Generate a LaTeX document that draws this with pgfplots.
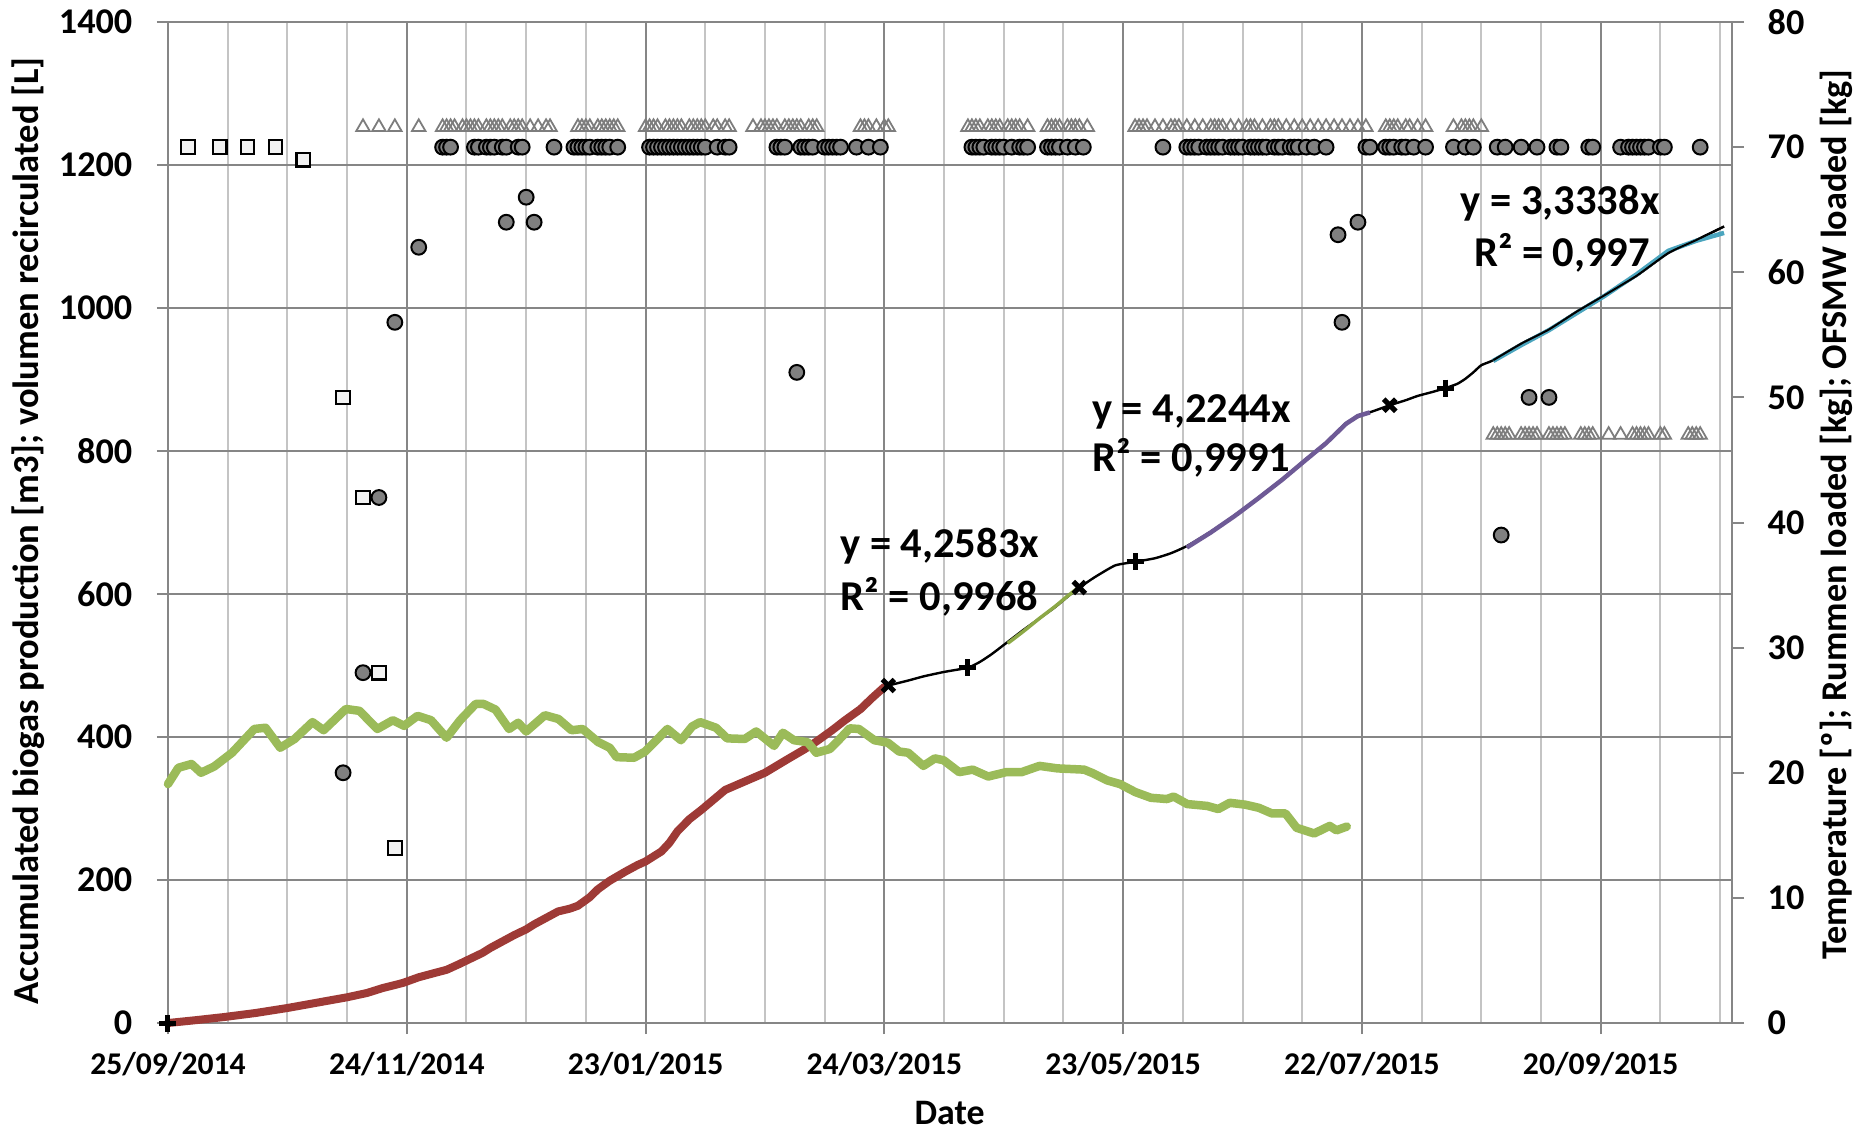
\documentclass[border=0pt]{standalone}
\usepackage{fontspec}
\setmainfont{Carlito}
\usepackage{pgfplots}
\pgfplotsset{compat=1.18}
\usetikzlibrary{calc}
\definecolor{gridmaj}{RGB}{134,134,134}
\definecolor{gridmin}{RGB}{196,196,196}
\definecolor{biored}{RGB}{158,58,54}
\definecolor{tempgreen}{RGB}{155,187,89}
\definecolor{circfill}{RGB}{128,128,128}
\definecolor{trigray}{RGB}{125,125,125}
\definecolor{sqfill}{RGB}{242,242,242}
\definecolor{trolive}{RGB}{140,168,70}
\definecolor{trpurple}{RGB}{110,90,150}
\definecolor{trteal}{RGB}{75,165,190}
\begin{document}
\begin{tikzpicture}
\begin{axis}[
  scale only axis, width=156.4mm, height=100.1mm,
  xmin=0, xmax=393, ymin=0, ymax=1400,
  clip=false,
  axis x line*=bottom, axis y line*=left,
  axis line style={gridmaj, line width=0.2mm},
  xtick={0,60,120,180,240,300,360},
  xticklabels={25/09/2014,24/11/2014,23/01/2015,24/03/2015,23/05/2015,22/07/2015,20/09/2015},
  minor xtick={15,30,45,75,90,105,135,150,165,195,210,225,255,270,285,315,330,345,375,390},
  ytick={0,200,...,1400},
  xmajorgrids, xminorgrids, ymajorgrids,
  major grid style={gridmaj, line width=0.2mm},
  minor grid style={gridmin, line width=0.2mm},
  tick align=outside, major tick length=1.1mm, minor tick length=0pt,
  every tick/.style={gridmaj, line width=0.2mm},
  /pgf/number format/1000 sep={},
  /pgf/number format/assume math mode=true,
  yticklabel style={font=\fontsize{10.3}{12}\selectfont\bfseries, anchor=east, inner sep=0pt, xshift=-2.4mm},
  xticklabel style={font=\fontsize{9}{11}\selectfont\bfseries, anchor=center, inner sep=0pt, yshift=-3.0mm},
]
\coordinate (SW) at (rel axis cs:0,0);
\coordinate (NE) at (rel axis cs:1,1);
% accumulated biogas production (red)
\addplot[biored, line width=0.8mm, line join=round, line cap=round] coordinates {
(0,0) (7,4) (14,8.3) (22,14) (30,21) (37,28) (45,36) (50,42) (54,49) (59,56)
(63,64) (67,70) (70,74.4) (73,82) (76,90) (79,98) (81,105) (84,114) (87,123)
(90,131) (92,138) (95,147) (98,156) (101,160) (103,164) (106,176) (108,187)
(111,199) (115,212) (118,221) (120,226) (124,240) (126,252) (128,268) (131,285)
(134,298) (137,312) (140,326) (145,338) (150,350) (156,370) (160,383) (163,394)
(167,410) (170,423) (174,439) (177,455) (180,470)
};
% black continuation
\addplot[black, line width=0.24mm, smooth, tension=0.3] coordinates {
(180,470) (181,472) (186,479) (190,485) (195,491) (201,497) (204,505) (207,516)
(211,533) (215,550) (219,566) (223,582) (226,596) (229,609) (233,624) (238,640)
(243,645) (248,650) (252,657) (256,667) (262,687) (268,710) (274,735) (280,761)
(286,789) (291,812) (296,839) (300,850) (304,858) (307,864) (311,871) (314,877)
(318,883) (321,888) (324,894) (326,901) (328,910) (330,920) (333,927) (340,950)
(347,970) (354,995) (361,1018) (369,1045) (377,1077) (384,1095) (391,1114)
};
% coloured fitted periods
\addplot[trolive, line width=0.35mm] coordinates {
(211,531) (215,548) (219,566) (223,583) (226,597) (229,610)
};
\addplot[trpurple, line width=0.45mm] coordinates {
(256,665) (262,686) (268,709) (274,734) (280,760) (286,788) (291,811) (296,838) (299,849) (302,854)
};
\addplot[trteal, line width=0.45mm] coordinates {
(333,926) (340,948) (347,969) (354,993) (361,1017) (369,1047) (377,1080) (384,1094) (391,1105)
};
% black line on top of fitted segments
\addplot[black, line width=0.2mm, smooth, tension=0.3] coordinates {
(333,927) (340,950) (347,970) (354,995) (361,1018) (369,1045) (377,1077) (384,1095) (391,1114)
};
% period markers
\addplot[only marks, mark=x, mark size=0.85mm, mark options={black, line width=0.5mm}] coordinates {
(181,472) (229,609) (307,864)
};
\addplot[only marks, mark=+, mark size=0.85mm, mark options={black, line width=0.5mm}] coordinates {
(0,0) (201,497) (243,645) (321,888)
};
% trend labels
\node[font=\fontsize{12.1}{14}\selectfont\bfseries] at (axis cs:193.9,667) {y = 4,2583x};
\node[font=\fontsize{12.1}{14}\selectfont\bfseries] at (axis cs:193.9,596) {R² = 0,9968};
\node[font=\fontsize{12.1}{14}\selectfont\bfseries] at (axis cs:257.2,855) {y = 4,2244x};
\node[font=\fontsize{12.1}{14}\selectfont\bfseries] at (axis cs:257.2,790) {R² = 0,9991};
\node[font=\fontsize{12.1}{14}\selectfont\bfseries] at (axis cs:349.8,1147) {y = 3,3338x};
\node[font=\fontsize{12.1}{14}\selectfont\bfseries] at (axis cs:350.3,1077) {R² = 0,997};
% axis titles
\node[rotate=90, font=\fontsize{10.4}{12}\selectfont\bfseries] at (axis description cs:-0.0895,0.4915) {Accumulated biogas production [m3]; volumen recirculated [L]};
\node[font=\fontsize{10.2}{12}\selectfont\bfseries] at (axis description cs:0.4997,-0.0899) {Date};
\node[rotate=90, font=\fontsize{10.3}{12}\selectfont\bfseries] at (axis description cs:1.0665,0.508) {Temperature [º]; Rummen loaded [kg]; OFSMW loaded [kg]};
\end{axis}
\begin{axis}[
  scale only axis, width=156.4mm, height=100.1mm,
  xmin=0, xmax=393, ymin=0, ymax=80,
  clip=false,
  axis x line=none, axis y line*=right,
  axis line style={gridmaj, line width=0.2mm},
  ytick={0,10,...,80},
  tick align=outside, major tick length=1.2mm,
  every tick/.style={gridmaj, line width=0.2mm},
  /pgf/number format/assume math mode=true,
  yticklabel style={font=\fontsize{10.3}{12}\selectfont\bfseries, anchor=west, inner sep=0pt, xshift=2.3mm},
]
% temperature (green)
\addplot[tempgreen, line width=0.85mm, line join=round, line cap=round] coordinates {
(0,19.1) (2.6,20.4) (5.9,20.7) (8.3,20.0) (11.6,20.5) (16.1,21.6) (21.7,23.5) (24.5,23.6)
(28.2,22.0) (31.8,22.7) (36.3,24.05) (39.1,23.4) (44.7,25.1) (48.1,24.95) (52.6,23.5)
(56.5,24.2) (59.3,23.75) (62.7,24.55) (66.1,24.2) (70,22.8) (73.4,24.2) (77.3,25.5)
(79.3,25.5) (82.3,25.05) (85.7,23.5) (88,24.0) (90,23.3) (94.7,24.6) (98.1,24.3)
(101.4,23.4) (104.2,23.5) (108.1,22.45) (111,22.0) (112.7,21.25) (117.1,21.2)
(119.9,21.7) (122.7,22.6) (125.5,23.5) (128.9,22.6) (131.7,23.7) (133.7,24.05)
(137.7,23.6) (140.5,22.75) (144.9,22.7) (147.8,23.3) (152.3,22.15) (154.5,23.2)
(157.3,22.6) (160.7,22.45) (162.9,21.6) (166.3,21.9) (168.5,22.6) (171.3,23.55)
(173.6,23.5) (177.5,22.6) (180.9,22.4) (183.7,21.7) (186,21.6) (189.8,20.55)
(192.7,21.15) (194.9,21.0) (198.8,20.05) (202.2,20.25) (206.1,19.7) (210.6,20.05)
(214.5,20.05) (219,20.55) (223.5,20.35) (230.2,20.25) (232.5,19.95) (235.9,19.4)
(239.2,19.1) (243.1,18.45) (247,18.0) (251,17.9) (252.7,18.1) (256.1,17.5)
(261.1,17.35) (263.9,17.1) (266.8,17.6) (270.7,17.45) (274.1,17.2) (277.4,16.75)
(280.8,16.75) (283.6,15.6) (288,15.15) (291.9,15.75) (293.6,15.4) (296.2,15.7)
};
% triangles (upper row)
\addplot[only marks, mark=triangle, mark size=0.78mm, mark options={draw=trigray, line width=0.18mm}] coordinates {
(49,71.6) (53,71.6) (57,71.6) (63,71.6)
(69,71.6) (70,71.6) (71,71.6) (72,71.6) (74,71.6) (75,71.6) (76,71.6) (77,71.6) (78,71.6)
(80,71.6) (81,71.6) (82,71.6) (83,71.6) (84,71.6) (86,71.6) (87,71.6) (88,71.6) (89,71.6)
(91,71.6) (93,71.6) (95,71.6) (96,71.6)
(103,71.6) (104,71.6) (105,71.6) (106,71.6) (108,71.6) (109,71.6) (110,71.6) (111,71.6) (112,71.6) (113,71.6)
(120,71.6) (121,71.6) (122,71.6) (123,71.6) (125,71.6) (126,71.6) (127,71.6) (128,71.6) (129,71.6)
(131,71.6) (132,71.6) (133,71.6) (134,71.6) (135,71.6) (137,71.6) (138,71.6) (140,71.6) (141,71.6)
(147,71.6) (149,71.6) (150,71.6) (151,71.6) (152,71.6) (153,71.6) (155,71.6) (156,71.6) (157,71.6)
(158,71.6) (159,71.6) (161,71.6) (162,71.6) (163,71.6)
(174,71.6) (175,71.6) (176,71.6) (178,71.6) (180,71.6) (181,71.6)
(201,71.6) (202,71.6) (203,71.6) (204,71.6) (206,71.6) (207,71.6) (208,71.6) (209,71.6)
(211,71.6) (212,71.6) (213,71.6) (214,71.6) (216,71.6)
(221,71.6) (222,71.6) (223,71.6) (224,71.6) (226,71.6) (227,71.6) (228,71.6) (229,71.6) (231,71.6)
(243,71.6) (244,71.6) (245,71.6) (246,71.6) (248,71.6) (250,71.6) (252,71.6) (253,71.6) (254,71.6)
(256,71.6) (258,71.6) (260,71.6) (262,71.6) (263,71.6) (264,71.6) (265,71.6) (267,71.6) (269,71.6)
(271,71.6) (272,71.6) (273,71.6) (275,71.6) (277,71.6) (278,71.6) (279,71.6) (281,71.6) (283,71.6)
(285,71.6) (287,71.6) (289,71.6) (291,71.6) (293,71.6) (295,71.6) (297,71.6) (299,71.6) (301,71.6)
(306,71.6) (307,71.6) (308,71.6) (309,71.6) (311,71.6) (312,71.6) (314,71.6) (316,71.6)
(323,71.6) (325,71.6) (326,71.6) (327,71.6) (328,71.6) (330,71.6)
};
% triangles (lower row)
\addplot[only marks, mark=triangle, mark size=0.78mm, mark options={draw=trigray, line width=0.18mm}] coordinates {
(333,47) (334,47) (335,47) (336,47) (337,47) (340,47) (341,47) (342,47) (343,47) (344,47)
(347,47) (348,47) (349,47) (350,47) (351,47) (355,47) (356,47) (357,47) (358,47)
(362,47) (365,47) (368,47) (369,47) (370,47) (371,47) (372,47) (375,47) (376,47)
(382,47) (383,47) (384,47) (385,47)
};
% squares
\addplot[only marks, mark=square*, mark size=0.68mm, mark options={fill=sqfill, draw=black, line width=0.22mm}] coordinates {
(5,70) (13,70) (20,70) (27,70) (34,69) (44,50) (49,42) (53,28) (57,14)
};
% circles
\addplot[only marks, mark=*, mark size=0.74mm, mark options={fill=circfill, draw=black, line width=0.2mm}] coordinates {
(69,70) (70,70) (71,70) (77,70) (78,70) (80,70) (81,70) (82,70) (84,70) (85,70) (88,70) (89,70) (97,70)
(102,70) (103,70) (104,70) (105,70) (106,70) (108,70) (109,70) (110,70) (111,70) (113,70)
(121,70) (122,70) (123,70) (124,70) (125,70) (126,70) (127,70) (128,70) (129,70) (130,70)
(131,70) (132,70) (133,70) (134,70) (135,70) (138,70) (140,70) (141,70)
(153,70) (154,70) (155,70) (159,70) (160,70) (161,70) (162,70) (165,70) (166,70) (167,70)
(168,70) (169,70) (173,70) (176,70) (179,70)
(202,70) (203,70) (204,70) (205,70) (207,70) (208,70) (209,70) (210,70) (212,70) (214,70) (215,70) (216,70)
(221,70) (222,70) (223,70) (224,70) (226,70) (228,70) (230,70)
(250,70)
(256,70) (257,70) (258,70) (259,70) (261,70) (262,70) (263,70) (264,70) (265,70) (267,70)
(268,70) (269,70) (270,70) (272,70) (273,70) (274,70) (275,70) (276,70) (278,70) (279,70)
(280,70) (282,70) (283,70) (284,70) (286,70) (288,70) (291,70)
(301,70) (302,70) (306,70) (307,70) (308,70) (310,70) (311,70) (313,70) (316,70)
(323,70) (326,70) (328,70) (334,70) (336,70) (340,70) (344,70) (349,70) (350,70)
(357,70) (358,70) (365,70) (367,70) (368,70) (369,70) (370,70) (371,70) (372,70)
(375,70) (376,70) (385,70)
(44,20) (49,28) (53,42) (57,56) (63,62) (85,64) (90,66) (92,64) (158,52)
(294,63) (295,56) (299,64) (335,39) (342,50) (347,50)
};
\end{axis}
\pgfresetboundingbox
\path[use as bounding box] ($(SW)+(-16.8mm,-10.8mm)$) rectangle ($(NE)+(12.9mm,2.2mm)$);
\end{tikzpicture}
\end{document}
